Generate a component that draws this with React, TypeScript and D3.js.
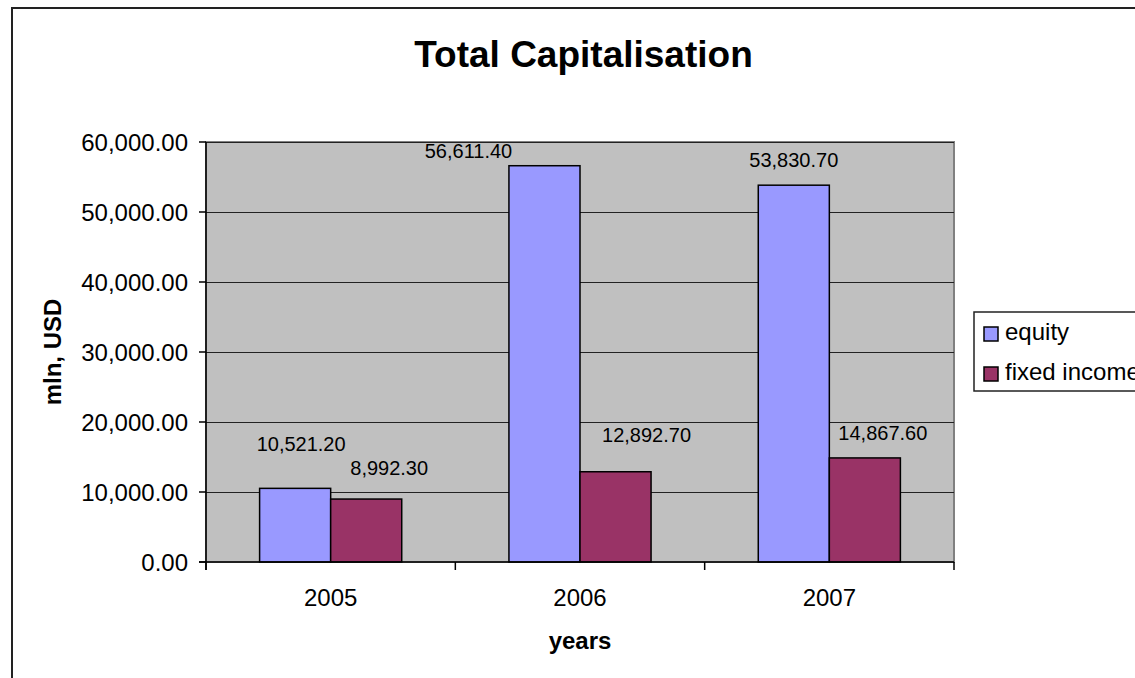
import React from "react";
import * as d3 from "d3";

const years = ["2005", "2006", "2007"];
const seriesNames = ["equity", "fixed income"];
const equity = [10521.2, 56611.4, 53830.7];
const fixedIncome = [8992.3, 12892.7, 14867.6];
const yTicks = [0, 10000, 20000, 30000, 40000, 50000, 60000];
const seriesColors = ["#9999FF", "#993366"];
// label nudges (dx, dy) relative to default position above each bar
const labelNudges = [
  [[6, -19], [-76, 10], [0, 0]],
  [[23, -6], [31, -12], [18, 0]],
];

const W = 1135;
const H = 678;
const plot = { left: 206, right: 954, top: 142, bottom: 562 };
const FONT = "'Liberation Sans', Arial, Helvetica, sans-serif";

export default function App() {
  const values = [equity, fixedIncome];
  const x = d3
    .scaleBand<string>()
    .domain(years)
    .range([plot.left, plot.right])
    .paddingInner(0.43)
    .paddingOuter(0.215);
  const xs = d3
    .scaleBand<string>()
    .domain(seriesNames)
    .range([0, x.bandwidth()]);
  const y = d3.scaleLinear().domain([0, 60000]).range([plot.bottom, plot.top]);
  const fmt = d3.format(",.2f");
  const step = (plot.right - plot.left) / years.length;

  return (
    <svg
      width={W}
      height={H}
      style={{ position: "fixed", left: 0, top: 0, background: "#fff" }}
      fontFamily={FONT}
    >
      {/* outer chart border */}
      <rect x={12} y={8} width={1200} height={720} fill="#fff" stroke="#222" strokeWidth={2} />

      {/* title */}
      <text x={583.5} y={67} textAnchor="middle" fontSize={37} fontWeight="bold" fill="#000">
        Total Capitalisation
      </text>

      {/* plot area */}
      <rect
        x={plot.left}
        y={plot.top}
        width={plot.right - plot.left}
        height={plot.bottom - plot.top}
        fill="#C0C0C0"
        stroke="#808080"
        strokeWidth={2}
      />

      {/* gridlines */}
      {yTicks.slice(1).map((t) => (
        <line
          key={"g" + t}
          x1={plot.left}
          x2={plot.right}
          y1={Math.round(y(t)) + 0.5}
          y2={Math.round(y(t)) + 0.5}
          stroke="#222"
          strokeWidth={1.2}
        />
      ))}

      {/* bars */}
      {values.map((vals, si) =>
        vals.map((v, i) => {
          const bx = (x(years[i]) as number) + (xs(seriesNames[si]) as number);
          return (
            <rect
              key={`b${si}-${i}`}
              x={bx}
              y={y(v)}
              width={xs.bandwidth()}
              height={y(0) - y(v)}
              fill={seriesColors[si]}
              stroke="#000"
              strokeWidth={1.5}
            />
          );
        })
      )}

      {/* axes */}
      <line x1={plot.left} x2={plot.left} y1={plot.top} y2={plot.bottom + 8} stroke="#000" strokeWidth={1.5} />
      <line x1={plot.left - 7} x2={plot.right} y1={plot.bottom} y2={plot.bottom} stroke="#000" strokeWidth={1.5} />

      {/* y ticks and labels */}
      {yTicks.map((t) => (
        <g key={"yt" + t}>
          <line x1={plot.left - 7} x2={plot.left} y1={y(t)} y2={y(t)} stroke="#000" strokeWidth={1.5} />
          <text x={188} y={y(t)} dy="0.36em" textAnchor="end" fontSize={24} fill="#000">
            {fmt(t)}
          </text>
        </g>
      ))}

      {/* x ticks (category boundaries) */}
      {d3.range(years.length + 1).map((i) => (
        <line
          key={"xt" + i}
          x1={plot.left + i * step}
          x2={plot.left + i * step}
          y1={plot.bottom}
          y2={plot.bottom + 8}
          stroke="#000"
          strokeWidth={1.5}
        />
      ))}
      {years.map((yr) => (
        <text
          key={"xl" + yr}
          x={(x(yr) as number) + x.bandwidth() / 2}
          y={606}
          textAnchor="middle"
          fontSize={24}
          fill="#000"
        >
          {yr}
        </text>
      ))}

      {/* data labels */}
      {values.map((vals, si) =>
        vals.map((v, i) => {
          const cx = (x(years[i]) as number) + (xs(seriesNames[si]) as number) + xs.bandwidth() / 2;
          const [dx, dy] = labelNudges[si][i];
          return (
            <text
              key={`l${si}-${i}`}
              x={cx + dx}
              y={y(v) - 18 + dy}
              textAnchor="middle"
              fontSize={20}
              fill="#000"
            >
              {fmt(v)}
            </text>
          );
        })
      )}

      {/* axis titles */}
      <text x={580} y={649} textAnchor="middle" fontSize={24} fontWeight="bold" fill="#000">
        years
      </text>
      <text
        transform={`translate(61, ${(plot.top + plot.bottom) / 2}) rotate(-90)`}
        textAnchor="middle"
        fontSize={24}
        fontWeight="bold"
        fill="#000"
      >
        mln, USD
      </text>

      {/* legend (cut off at the right edge, as in the reference) */}
      <rect x={974} y={312} width={200} height={79} fill="#fff" stroke="#222" strokeWidth={1.5} />
      {seriesNames.map((s, si) => (
        <g key={"lg" + s}>
          <rect x={984} y={327 + si * 40} width={14} height={14} fill={seriesColors[si]} stroke="#000" strokeWidth={1.5} />
          <text x={1005} y={340 + si * 40} fontSize={24} fill="#000">
            {s}
          </text>
        </g>
      ))}
    </svg>
  );
}
